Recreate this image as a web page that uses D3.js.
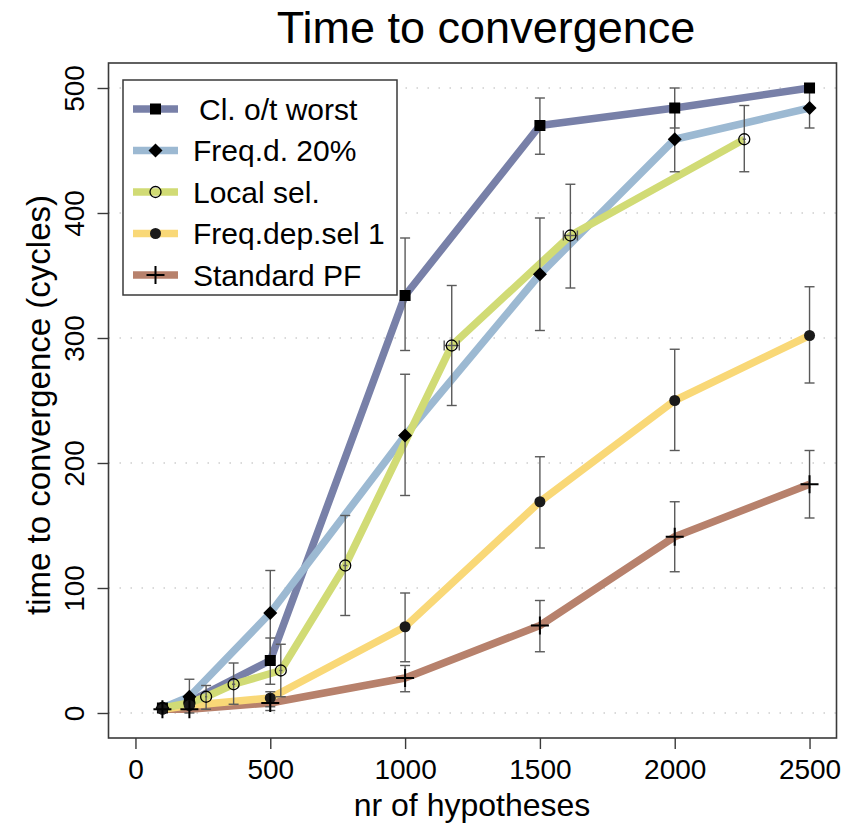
<!DOCTYPE html>
<html lang="en">
<head>
<meta charset="UTF-8">
<title>Time to convergence</title>
<script src="https://cdn.jsdelivr.net/npm/d3@7"></script>
<style>
  body { margin: 0; background: #fff; }
  svg text { font-family: "Liberation Sans", Arial, Helvetica, sans-serif; fill: #000; }
</style>
</head>
<body>
<svg id="chart" width="852" height="825"></svg>
<script>
// values
const seriesNames = ["Cl. o/t worst", "Freq.d. 20%", "Local sel.", "Freq.dep.sel 1", "Standard PF"];
const xTicks = [0, 500, 1000, 1500, 2000, 2500];
const yTicks = [0, 100, 200, 300, 400, 500];

const clX  = [100, 200, 500, 1000, 1500, 2000, 2500];
const clY  = [4, 9, 42, 334, 470, 484, 500];
const clLo = [4, 9, 23, 290, 447, 468, 500];
const clHi = [4, 9, 60, 380, 492, 500, 500];

const fdX  = [100, 200, 500, 1000, 1500, 2000, 2500];
const fdY  = [4, 13, 80, 222, 351, 459, 484];
const fdLo = [4, 0, 42, 174, 306, 433, 468];
const fdHi = [4, 27, 114, 271, 396, 482, 502];

const lsX  = [100, 200, 262, 364, 539, 778, 1173, 1613, 2258];
const lsY  = [4, 8, 13, 23, 34, 118, 294, 382, 459];
const lsLo = [4, 8, 3, 7, 13, 78, 246, 340, 433];
const lsHi = [4, 8, 22, 40, 55, 158, 342, 423, 486];
const lsXerr = [0, 0, 4, 6, 6, 8, 28, 26, 6];

const fqX  = [100, 200, 500, 1000, 1500, 2000, 2500];
const fqY  = [3, 6, 12, 69, 169, 250, 302];
const fqLo = [3, 6, 5, 41, 132, 210, 264];
const fqHi = [3, 6, 17, 96, 205, 291, 341];

const pfX  = [100, 200, 500, 1000, 1500, 2000, 2500];
const pfY  = [3, 3, 8, 28, 70, 141, 183];
const pfLo = [3, 3, 2, 17, 49, 113, 156];
const pfHi = [3, 3, 12, 38, 90, 169, 210];

function rows(xs, ys, lo, hi, xe) {
  return xs.map((x, i) => ({x: x, y: ys[i], lo: lo[i], hi: hi[i], xe: xe ? xe[i] : 0}));
}

const series = [
  {name: seriesNames[0], color: "#7880a8", shape: "square",  data: rows(clX, clY, clLo, clHi)},
  {name: seriesNames[1], color: "#9cb9d2", shape: "diamond", data: rows(fdX, fdY, fdLo, fdHi)},
  {name: seriesNames[2], color: "#d1db75", shape: "open",    data: rows(lsX, lsY, lsLo, lsHi, lsXerr)},
  {name: seriesNames[3], color: "#f9d877", shape: "dot",     data: rows(fqX, fqY, fqLo, fqHi)},
  {name: seriesNames[4], color: "#b7816c", shape: "plus",    data: rows(pfX, pfY, pfLo, pfHi)}
];

const svg = d3.select("#chart");
const x = d3.scaleLinear().domain([-100, 2600]).range([108.5, 836.5]);
const y = d3.scaleLinear().domain([-20, 520]).range([738, 63]);

// dotted grid lines
svg.append("g").selectAll("line")
  .data(yTicks)
  .enter()
  .append("line")
  .attr("x1", x(-100)).attr("x2", x(2600))
  .attr("y1", d => y(d)).attr("y2", d => y(d))
  .attr("stroke", "#b5b5b5")
  .attr("stroke-width", 1.2)
  .attr("stroke-dasharray", "1.5,9.5");

// lines, bottom series first
const lineGen = d3.line().x(d => x(d.x)).y(d => y(d.y));
const drawOrder = [4, 3, 0, 1, 2];
svg.append("g").selectAll("path")
  .data(drawOrder.map(i => series[i]))
  .enter()
  .append("path")
  .attr("d", d => lineGen(d.data))
  .attr("fill", "none")
  .attr("stroke", d => d.color)
  .attr("stroke-width", 7.5)
  .attr("stroke-linejoin", "round");

// error bars
const errG = svg.append("g").attr("stroke", "#5a5a5a").attr("stroke-width", 1.4);
series.forEach(s => {
  s.data.filter(d => d.hi - d.lo > 0.5).forEach(d => {
    const cx = x(d.x);
    errG.append("line").attr("x1", cx).attr("x2", cx).attr("y1", y(d.lo)).attr("y2", y(d.hi));
    errG.append("line").attr("x1", cx - 5).attr("x2", cx + 5).attr("y1", y(d.lo)).attr("y2", y(d.lo));
    errG.append("line").attr("x1", cx - 5).attr("x2", cx + 5).attr("y1", y(d.hi)).attr("y2", y(d.hi));
  });
  s.data.filter(d => d.xe > 0).forEach(d => {
    const x0 = x(d.x - d.xe), x1 = x(d.x + d.xe), cy = y(d.y);
    errG.append("line").attr("x1", x0).attr("x2", x1).attr("y1", cy).attr("y2", cy);
    if (x1 - x0 > 12) {
      errG.append("line").attr("x1", x0).attr("x2", x0).attr("y1", cy - 5).attr("y2", cy + 5);
      errG.append("line").attr("x1", x1).attr("x2", x1).attr("y1", cy - 5).attr("y2", cy + 5);
    }
  });
});

function drawMarker(g, shape, cx, cy) {
  if (shape === "square") {
    g.append("rect").attr("x", cx - 5.5).attr("y", cy - 5.5).attr("width", 11).attr("height", 11).attr("fill", "#000");
  } else if (shape === "diamond") {
    g.append("path").attr("d", `M${cx},${cy - 7}L${cx + 7},${cy}L${cx},${cy + 7}L${cx - 7},${cy}Z`).attr("fill", "#000");
  } else if (shape === "open") {
    g.append("circle").attr("cx", cx).attr("cy", cy).attr("r", 5.5).attr("fill", "none").attr("stroke", "#000").attr("stroke-width", 1.3);
  } else if (shape === "dot") {
    g.append("circle").attr("cx", cx).attr("cy", cy).attr("r", 5.5).attr("fill", "#1a1a1a");
  } else if (shape === "plus") {
    g.append("path").attr("d", `M${cx - 9},${cy}H${cx + 9}M${cx},${cy - 9}V${cy + 9}`).attr("stroke", "#000").attr("stroke-width", 2);
  }
}

// markers
const markG = svg.append("g");
series.forEach(s => {
  s.data.forEach(d => drawMarker(markG, s.shape, x(d.x), y(d.y)));
});

// plot box
svg.append("rect")
  .attr("x", x(-100)).attr("y", y(520))
  .attr("width", x(2600) - x(-100)).attr("height", y(-20) - y(520))
  .attr("fill", "none").attr("stroke", "#3a3a3a").attr("stroke-width", 1.6);

// axes
const xAxis = svg.append("g")
  .attr("transform", `translate(0,${y(-20)})`)
  .call(d3.axisBottom(x).tickValues(xTicks).tickSize(11).tickPadding(10).tickFormat(d3.format("d")));
xAxis.select(".domain").remove();
xAxis.selectAll("line").attr("stroke", "#3a3a3a").attr("stroke-width", 1.4);
xAxis.selectAll("text").attr("font-size", 28).attr("font-family", null);

const yAxis = svg.append("g")
  .attr("transform", `translate(${x(-100)},0)`)
  .call(d3.axisLeft(y).tickValues(yTicks).tickSize(11).tickFormat(d3.format("d")));
yAxis.select(".domain").remove();
yAxis.selectAll("line").attr("stroke", "#3a3a3a").attr("stroke-width", 1.4);
yAxis.selectAll("text")
  .attr("font-size", 28).attr("font-family", null)
  .attr("x", null).attr("dy", null)
  .attr("text-anchor", "middle")
  .attr("transform", "translate(-25,0) rotate(-90)")
  .attr("y", 0);

// titles
svg.append("text").attr("x", 486).attr("y", 43).attr("text-anchor", "middle")
  .attr("font-size", 45).text("Time to convergence");
svg.append("text").attr("x", 472).attr("y", 816).attr("text-anchor", "middle")
  .attr("font-size", 32).text("nr of hypotheses");
svg.append("text").attr("transform", "translate(50,405) rotate(-90)").attr("text-anchor", "middle")
  .attr("font-size", 33).text("time to convergence (cycles)");

// legend
const legend = svg.append("g");
legend.append("rect").attr("x", 123).attr("y", 80).attr("width", 274).attr("height", 215)
  .attr("fill", "#fff").attr("stroke", "#3a3a3a").attr("stroke-width", 1.5);
series.forEach((s, i) => {
  const ly = 109 + i * 41.5;
  legend.append("line").attr("x1", 133).attr("x2", 178).attr("y1", ly).attr("y2", ly)
    .attr("stroke", s.color).attr("stroke-width", 7.5);
  drawMarker(legend, s.shape, 155.5, ly);
  legend.append("text").attr("x", i === 0 ? 199 : 193).attr("y", ly + 10.5).attr("font-size", 30).text(s.name);
});
</script>
</body>
</html>
